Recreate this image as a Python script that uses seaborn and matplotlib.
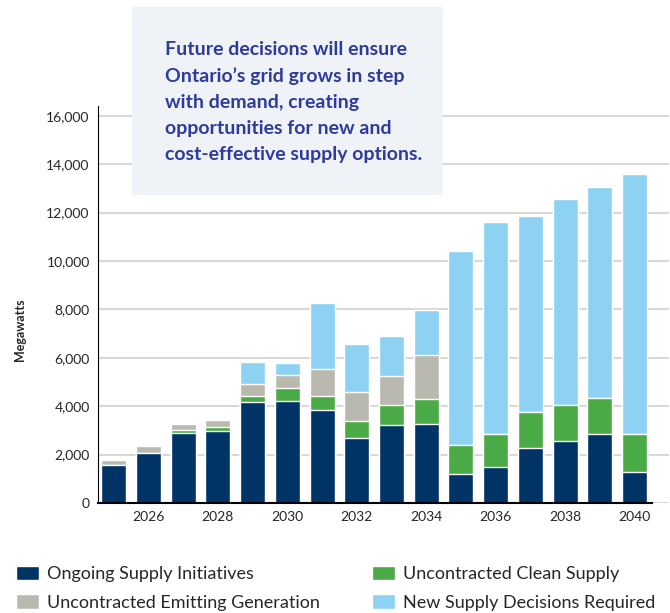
import seaborn as sns
import matplotlib.pyplot as plt
import pandas as pd
from matplotlib.patches import Patch, Rectangle

years = list(range(2025, 2041))
ongoing = [1590, 2080, 2910, 2990, 4190, 4230, 3860, 2700, 3240, 3280, 1210, 1500, 2290, 2580, 2830, 1260]
clean = [0, 0, 120, 130, 250, 500, 540, 670, 790, 1000, 1200, 1330, 1450, 1450, 1490, 1570]
emitting = [200, 290, 250, 290, 460, 540, 1130, 1200, 1200, 1820, 0, 0, 0, 0, 0, 0]
new_supply = [0, 0, 0, 0, 910, 500, 2720, 1980, 1650, 1860, 7990, 8770, 8110, 8520, 8730, 10760]

series_names = ['Ongoing Supply Initiatives', 'Uncontracted Clean Supply',
                'Uncontracted Emitting Generation', 'New Supply Decisions Required']
colors = ['#003466', '#4aaa45', '#bab9b0', '#8dd1f3']

df = pd.DataFrame({'year': years, 'ongoing': ongoing, 'clean': clean,
                   'emitting': emitting, 'new': new_supply})
df['c1'] = df['ongoing']
df['c2'] = df['c1'] + df['clean']
df['c3'] = df['c2'] + df['emitting']
df['c4'] = df['c3'] + df['new']

sns.set_style('white')
plt.rcParams['font.family'] = ['Lato', 'DejaVu Sans']

fig = plt.figure(figsize=(6.7, 6.13), dpi=100)
ax = fig.add_axes([98 / 670, 110 / 613, 571 / 670, 397 / 613])

# draw cumulative totals from top layer down so each layer covers the one above
for col, color in zip(['c4', 'c3', 'c2', 'c1'], colors[::-1]):
    sns.barplot(data=df, x='year', y=col, color=color, width=0.72,
                saturation=1, ax=ax, zorder=2)

ax.set_ylim(0, 16400)
ax.set_xlim(-0.45, 15.99)
ax.set_yticks(range(0, 16001, 2000))
ax.set_yticklabels([f'{v:,}' for v in range(0, 16001, 2000)], fontsize=10)
ax.set_xticks(range(len(years)))
ax.set_xticklabels([str(y) if y % 2 == 0 else '' for y in years], fontsize=10)
ax.tick_params(length=0, pad=6)
ax.yaxis.grid(True, color='#d9d8d3', linewidth=1.5, zorder=0)
ax.set_axisbelow(True)
ax.set_xlabel('')
ax.set_ylabel('')
for s in ['top', 'right']:
    ax.spines[s].set_visible(False)
ax.spines['left'].set_color('black')
ax.spines['bottom'].set_color('black')
ax.spines['bottom'].set_linewidth(1.5)
ax.spines['bottom'].set_bounds(-0.45, 15.5)

fig.text(20 / 670, 1 - 330 / 613, 'Megawatts', rotation=90, fontsize=9,
         fontweight='bold', ha='center', va='center')

# callout box
fig.patches.append(Rectangle((132 / 670, 1 - 195 / 613), 311 / 670, 188 / 613,
                             transform=fig.transFigure, facecolor='#eff3f7',
                             edgecolor='none', zorder=5))
callout = ('Future decisions will ensure\nOntario\u2019s grid grows in step\n'
           'with demand, creating\nopportunities for new and\n'
           'cost-effective supply options.')
fig.text(165 / 670, 1 - 41 / 613, callout, fontsize=14, fontweight='bold',
         color='#2e3b9c', ha='left', va='top', linespacing=1.64, zorder=6)

handles = [Patch(facecolor=colors[0]), Patch(facecolor=colors[2]),
           Patch(facecolor=colors[1]), Patch(facecolor=colors[3])]
labels = [series_names[0], series_names[2], series_names[1], series_names[3]]
fig.legend(handles, labels, ncol=2, loc='lower left',
           bbox_to_anchor=(2 / 670, -12 / 613), frameon=False, fontsize=13,
           handlelength=1.25, handleheight=0.85, handletextpad=0.45,
           columnspacing=2.9, labelspacing=0.65, borderpad=0.3)

fig.savefig('out.png', dpi=100)
